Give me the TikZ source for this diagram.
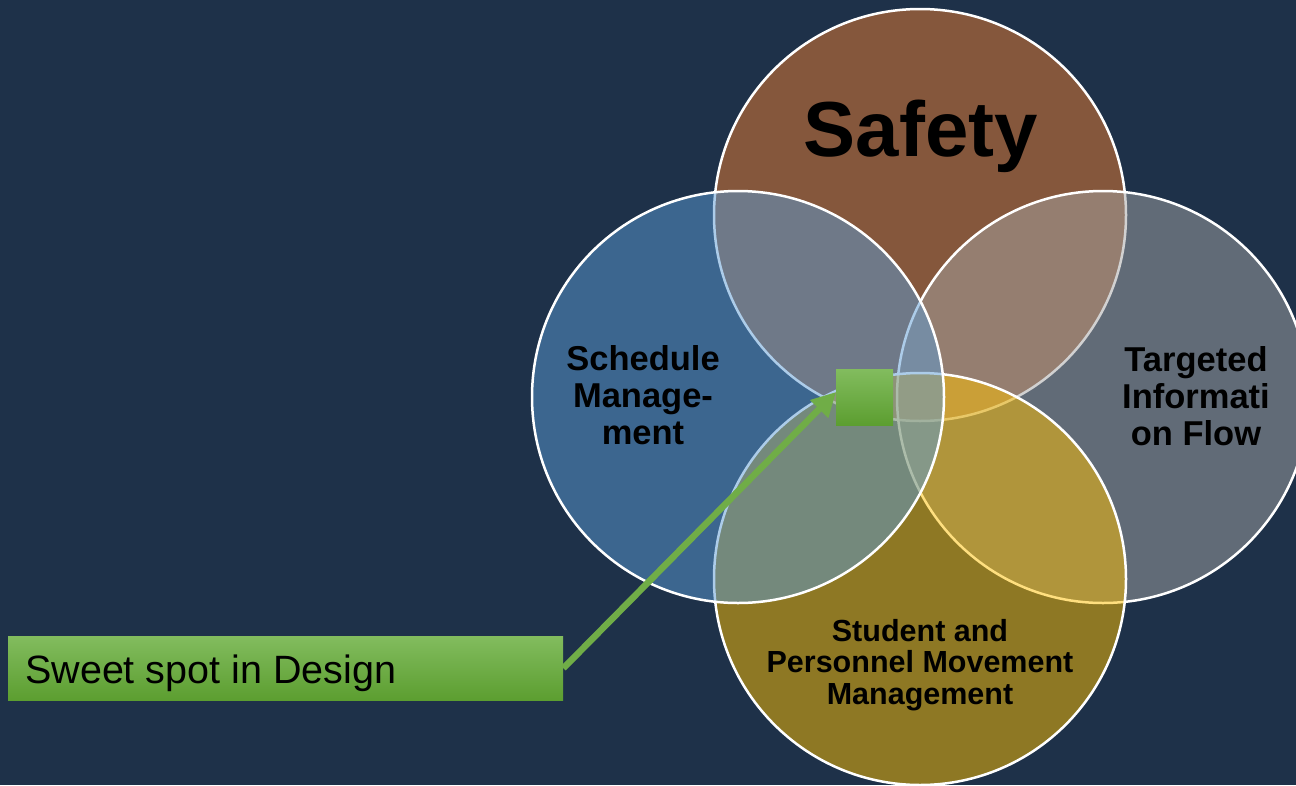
\documentclass[tikz,border=0pt]{standalone}
\usepackage{fontspec}
\setmainfont{Liberation Sans}
\usetikzlibrary{arrows.meta}
\definecolor{bg}{HTML}{1E3149}
\definecolor{cblue}{HTML}{5B9BD5}
\definecolor{corange}{HTML}{ED7D31}
\definecolor{cgrey}{HTML}{A5A5A5}
\definecolor{cgold}{HTML}{FFC000}
\definecolor{gtop}{HTML}{82BC5E}
\definecolor{gbot}{HTML}{5C9E30}
\definecolor{garrow}{HTML}{70AD47}
\tikzset{
  venncircle/.style={circle, draw=white, line width=2.5pt, fill opacity=0.5, draw opacity=1,
    minimum size=412pt, inner sep=0pt},
  vennlabel/.style={font=\bfseries\fontsize{34.5}{37}\selectfont, text=black, align=center, inner sep=0pt},
  greenbox/.style={top color=gtop, bottom color=gbot, draw=none, inner sep=0pt},
}
\begin{document}
\begin{tikzpicture}[x=1pt,y=-1pt]
\useasboundingbox (0,0) rectangle (1296,785);
\clip (0,0) rectangle (1296,785);
\fill[bg] (0,0) rectangle (1296,785);
% circles in stacking order
\node[venncircle, fill=corange] (safety) at (920,215) {};
\node[venncircle, fill=cgrey] (info) at (1103,397) {};
\node[venncircle, fill=cgold] (move) at (920,579) {};
\node[venncircle, fill=cblue] (sched) at (738,397) {};
% labels
\node[vennlabel, font=\bfseries\fontsize{78}{80}\selectfont, anchor=base] (safetytxt) at (921,156) {Safety};
\node[vennlabel, anchor=north] (schedtxt) at (643,345.5) {Schedule\\Manage-\\ment};
\node[vennlabel, anchor=north] (infotxt) at (1196,346.5) {Targeted\\Informati\\on Flow};
\node[vennlabel, font=\bfseries\fontsize{30.5}{31.5}\selectfont, anchor=north] (movetxt) at (920,619) {Student and\\Personnel Movement\\Management};
% callout
\node[greenbox, minimum width=555pt, minimum height=64pt, anchor=north west] (box) at (8,636) {};
\node[anchor=base west, inner sep=0pt, font=\fontsize{39.5}{41}\selectfont, text=black] (boxtxt) at (25,683) {Sweet spot in Design};
\node[greenbox, minimum width=57pt, minimum height=56pt, anchor=north west] (spot) at (836,369) {};
\coordinate (tip) at (836,392);
\draw[garrow, line width=6.5pt, -{Triangle[length=24pt,width=24pt]}] (box.east) -- (tip);
\end{tikzpicture}
\end{document}
